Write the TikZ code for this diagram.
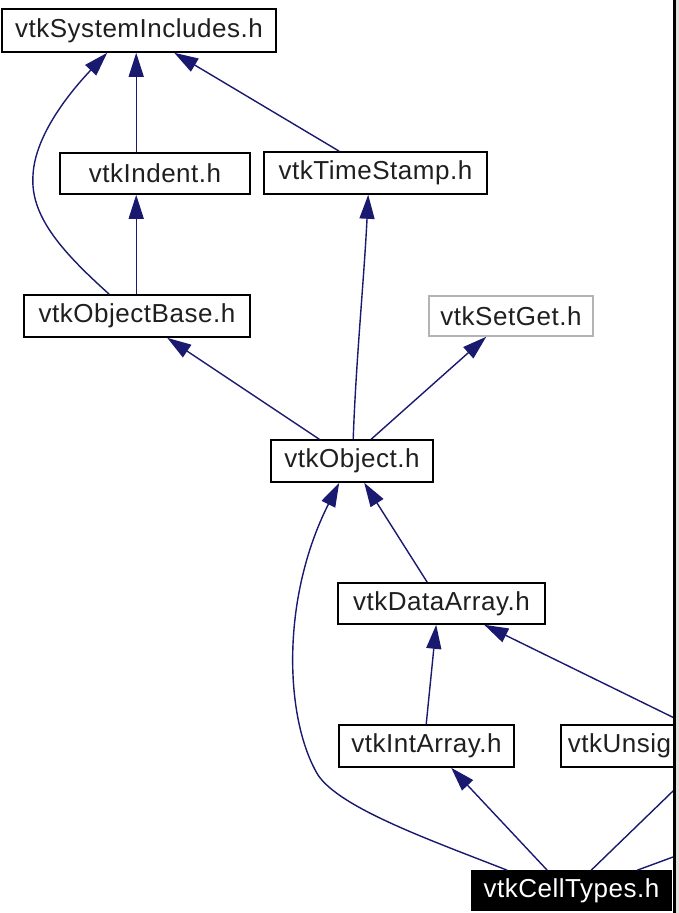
\documentclass[tikz,border=0pt]{standalone}
\usepackage{fontspec}
\setmainfont{Liberation Sans}[LetterSpace=2]
\usetikzlibrary{arrows.meta,calc}
\definecolor{edgeblue}{HTML}{191970}
\definecolor{setgray}{HTML}{B4B4B4}
\definecolor{stripgray}{HTML}{E2DED9}
\begin{document}
\begin{tikzpicture}[x=1pt,y=-1pt,
  box/.style={draw=black,line width=1.6pt,fill=white,inner sep=0pt,
    font=\fontsize{26}{30}\selectfont,text=black!88},
  dep/.style={draw=edgeblue,line width=1.4pt,
    -{Triangle[length=24pt,width=15pt]}},
  plain/.style={draw=edgeblue,line width=1.4pt}]
\useasboundingbox (0,0) rectangle (679,913);
\fill[white] (0,0) rectangle (679,913);
\begin{scope}
\clip (0,0) rectangle (673,913);
% nodes
\node[box,minimum width=274pt,minimum height=43pt] (sys) at (139,30.5) {vtkSystemIncludes.h};
\node[box,minimum width=190pt,minimum height=41pt] (indent) at (155,173.5) {vtkIndent.h};
\node[box,minimum width=223pt,minimum height=42pt] (timestamp) at (375.5,173) {vtkTimeStamp.h};
\node[box,minimum width=226pt,minimum height=42pt] (objbase) at (137,316) {vtkObjectBase.h};
\node[box,draw=setgray,minimum width=164pt,minimum height=40pt] (setget) at (511,316) {vtkSetGet.h};
\node[box,minimum width=162pt,minimum height=42pt] (object) at (352,461) {vtkObject.h};
\node[box,minimum width=207pt,minimum height=41pt] (dataarray) at (441.5,603.5) {vtkDataArray.h};
\node[box,minimum width=175pt,minimum height=42pt] (intarray) at (426.5,746) {vtkIntArray.h};
\node[box,minimum width=230pt,minimum height=42pt,anchor=west,text width=216pt,align=left] (unsig) at (560,746) {vtkUnsig};
\node[box,fill=black,text=white,minimum width=199pt,minimum height=39pt] (celltypes) at (571.5,890.5) {vtkCellTypes.h};
\coordinate (offright) at (730,836);
% edges
\draw[dep] ($(indent.north west)+(77,0)$) -- ($(sys.south west)+(135,0)$);
\draw[dep] ($(objbase.north west)+(86,0)$) .. controls (60,250) and (30,215) .. (33,175)
  .. controls (35,135) and (70,92) .. ($(sys.south west)+(106,0)$);
\draw[dep] ($(timestamp.north west)+(76,0)$) -- ($(sys.south west)+(173,0)$);
\draw[dep] ($(objbase.north west)+(113,0)$) -- ($(indent.south west)+(77,0)$);
\draw[dep] ($(object.north west)+(49,0)$) -- ($(objbase.south west)+(144,0)$);
\draw[dep] ($(object.north west)+(83,0)$) .. controls (356,360) and (364,280) .. ($(timestamp.south west)+(105,0)$);
\draw[dep] ($(object.north west)+(101,0)$) -- ($(setget.south west)+(58,0)$);
\draw[dep] ($(dataarray.north west)+(90,0)$) -- ($(object.south west)+(94,0)$);
\draw[dep] ($(celltypes.north west)+(36,0)$) .. controls (430,840) and (340,808) .. (318,775)
  .. controls (285,720) and (280,600) .. ($(object.south west)+(69,0)$);
\draw[dep] ($(intarray.north west)+(88,0)$) -- ($(dataarray.south west)+(99,0)$);
\draw[dep] ($(celltypes.north west)+(76,0)$) -- ($(intarray.south west)+(113,0)$);
\draw[dep] ($(unsig.north west)+(127,0)$) -- ($(dataarray.south west)+(147,0)$);
\draw[dep] ($(celltypes.north west)+(120,0)$) -- ($(unsig.south west)+(137,0)$);
\draw[dep] ($(celltypes.north west)+(166,0)$) -- (offright);
\end{scope}
% right border
\fill[black] (673,0) rectangle (675.6,913);
\fill[stripgray] (675.6,0) rectangle (679,913);
\end{tikzpicture}
\end{document}
